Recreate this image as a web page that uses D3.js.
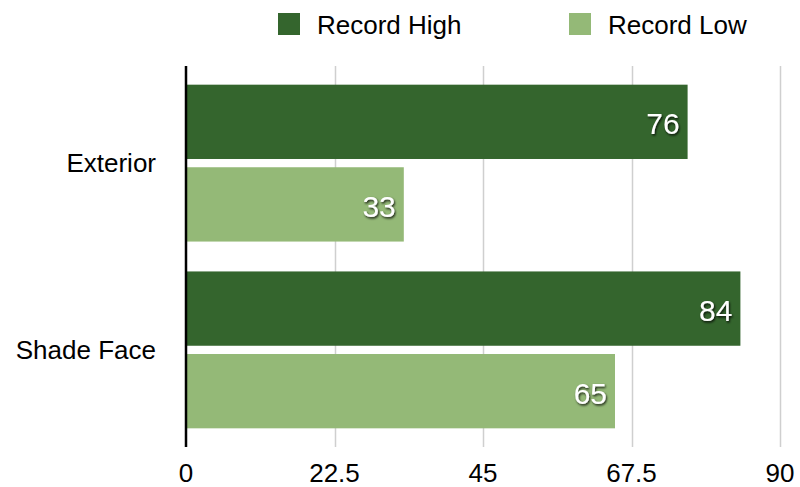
<!DOCTYPE html>
<html>
<head>
<meta charset="utf-8">
<script src="https://cdn.jsdelivr.net/npm/d3@7"></script>
<style>
  html, body { margin: 0; padding: 0; background: #fff; }
  svg { display: block; font-family: "Liberation Sans", Arial, Helvetica, sans-serif; }
</style>
</head>
<body>
<svg id="chart" width="800" height="487"></svg>
<script>
const categories = ["Exterior", "Shade Face"];
const seriesNames = ["Record High", "Record Low"];
const recordHigh = [76, 84];
const recordLow = [33, 65];
const tickValues = [0, 22.5, 45, 67.5, 90];
const tickLabels = ["0", "22.5", "45", "67.5", "90"];
const colors = ["#34652d", "#94b977"];

const seriesValues = [recordHigh, recordLow];
const data = categories.map((c, i) => ({
  category: c,
  values: seriesNames.map((s, j) => ({ series: s, value: seriesValues[j][i], idx: j }))
}));

const svg = d3.select("#chart");
const plot = { left: 186, right: 780, top: 66, bottom: 447 };

const defs = svg.append("defs");
const f = defs.append("filter").attr("id", "shadow")
  .attr("x", "-20%").attr("y", "-20%").attr("width", "150%").attr("height", "150%");
f.append("feDropShadow").attr("dx", 1).attr("dy", 1.5).attr("stdDeviation", 1)
  .attr("flood-color", "#000").attr("flood-opacity", 0.85);

const x = d3.scaleLinear().domain([0, 90]).range([plot.left, plot.right]);
const y = d3.scaleBand().domain(categories).range([plot.top, plot.bottom])
  .paddingInner(0.16).paddingOuter(0.1);
const y1 = d3.scaleBand().domain(seriesNames).range([0, y.bandwidth()]).paddingInner(0.1);

// gridlines
svg.append("g").selectAll("line")
  .data(tickValues.slice(1))
  .join("line")
  .attr("x1", d => Math.round(x(d)) + 0.5).attr("x2", d => Math.round(x(d)) + 0.5)
  .attr("y1", plot.top).attr("y2", plot.bottom)
  .attr("stroke", "#cfcfcf").attr("stroke-width", 1.5);

// bars
const groups = svg.append("g").selectAll("g")
  .data(data).join("g")
  .attr("transform", d => `translate(0,${y(d.category)})`);

groups.selectAll("rect")
  .data(d => d.values).join("rect")
  .attr("x", x(0))
  .attr("y", d => y1(d.series))
  .attr("width", d => x(d.value) - x(0))
  .attr("height", y1.bandwidth())
  .attr("fill", d => colors[d.idx]);

groups.selectAll("text.val")
  .data(d => d.values).join("text")
  .attr("class", "val")
  .attr("x", d => x(d.value) - 8)
  .attr("y", d => y1(d.series) + y1.bandwidth() / 2)
  .attr("dy", "0.42em")
  .attr("text-anchor", "end")
  .attr("font-size", 30)
  .attr("fill", "#fff")
  .attr("filter", "url(#shadow)")
  .text(d => d.value);

// axis line
svg.append("line")
  .attr("x1", x(0)).attr("x2", x(0))
  .attr("y1", plot.top).attr("y2", plot.bottom)
  .attr("stroke", "#000").attr("stroke-width", 2.5);

// x tick labels
svg.append("g").selectAll("text")
  .data(tickValues).join("text")
  .attr("x", d => x(d))
  .attr("y", 482)
  .attr("text-anchor", "middle")
  .attr("font-size", 26)
  .attr("fill", "#000")
  .text((d, i) => tickLabels[i]);

// category labels
svg.append("g").selectAll("text")
  .data(categories).join("text")
  .attr("x", 156)
  .attr("y", d => y(d) + y.bandwidth() / 2)
  .attr("dy", "0.36em")
  .attr("text-anchor", "end")
  .attr("font-size", 26)
  .attr("fill", "#000")
  .text(d => d);

// legend
const legendX = [278, 569];
const legend = svg.append("g").selectAll("g")
  .data(seriesNames).join("g")
  .attr("transform", (d, i) => `translate(${legendX[i]},13)`);
legend.append("rect").attr("width", 22).attr("height", 22).attr("fill", (d, i) => colors[i]);
legend.append("text").attr("x", 39).attr("y", 21).attr("font-size", 26).attr("fill", "#000").text(d => d);
</script>
</body>
</html>
